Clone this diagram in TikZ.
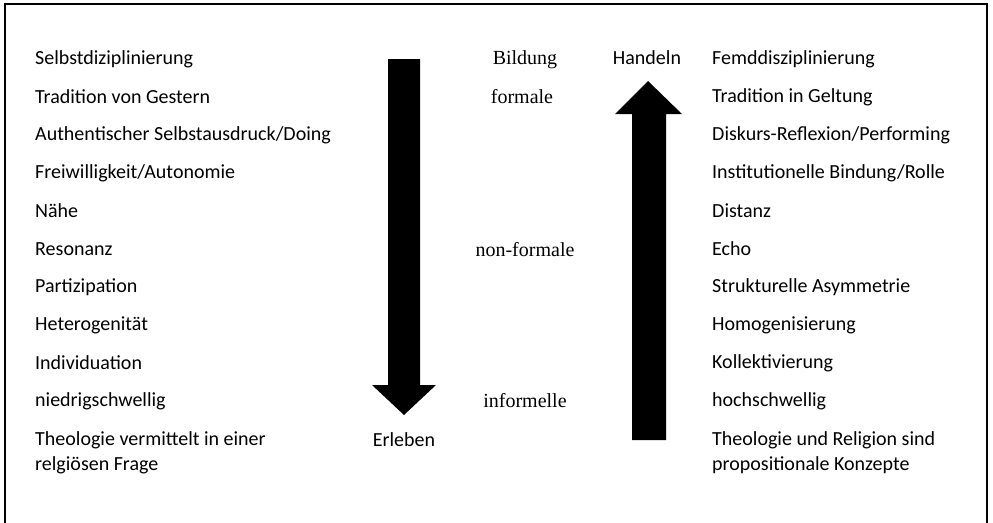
\documentclass[tikz,border=0pt]{standalone}
\usepackage{fontspec}
\setmainfont{Carlito}
\newfontfamily\serifx{Liberation Serif}
\begin{document}
\begin{tikzpicture}[x=1pt,y=-1pt,
  lbl/.style={anchor=west,inner sep=0pt,font=\fontsize{20}{25}\selectfont,align=left},
  mid/.style={inner sep=0pt,font=\fontsize{20}{25}\selectfont},
  ser/.style={inner sep=0pt,font=\serifx\fontsize{20}{25}\selectfont},
  frame/.style={line width=2pt,black},
  bigarrow/.style={fill=black,draw=none}]
\useasboundingbox (0,0) rectangle (993,522);
\draw[frame] (5,530) -- (5,4) -- (987,4) -- (987,530);
% left column
\node[lbl] (l0) at (35,59) {Selbstdiziplinierung};
\node[lbl] (l1) at (35,97) {Tradition von Gestern};
\node[lbl] (l2) at (35,135) {Authentischer Selbstausdruck/Doing};
\node[lbl] (l3) at (35,173) {Freiwilligkeit/Autonomie};
\node[lbl] (l4) at (35,211) {Nähe};
\node[lbl] (l5) at (35,249) {Resonanz};
\node[lbl] (l6) at (35,287) {Partizipation};
\node[lbl] (l7) at (35,325) {Heterogenität};
\node[lbl] (l8) at (35,363) {Individuation};
\node[lbl] (l9) at (35,401) {niedrigschwellig};
\node[lbl] (l10) at (35,452.5) {Theologie vermittelt in einer\\relgiösen Frage};
% right column
\node[lbl] (r0) at (712,59) {Femddisziplinierung};
\node[lbl] (r1) at (712,97) {Tradition in Geltung};
\node[lbl] (r2) at (712,135) {Diskurs-Reflexion/Performing};
\node[lbl] (r3) at (712,173) {Institutionelle Bindung/Rolle};
\node[lbl] (r4) at (712,211) {Distanz};
\node[lbl] (r5) at (712,249) {Echo};
\node[lbl] (r6) at (712,287) {Strukturelle Asymmetrie};
\node[lbl] (r7) at (712,325) {Homogenisierung};
\node[lbl] (r8) at (712,363) {Kollektivierung};
\node[lbl] (r9) at (712,401) {hochschwellig};
\node[lbl] (r10) at (712,452.5) {Theologie und Religion sind\\propositionale Konzepte};
% middle labels
\node[ser] (bildung) at (525,60) {Bildung};
\node[ser] (formale) at (522,97) {formale};
\node[ser] (nonformale) at (525,250) {non-formale};
\node[ser] (informelle) at (525,401) {informelle};
\node[mid] (handeln) at (647,58) {Handeln};
\node[mid] (erleben) at (404,440) {Erleben};
% down arrow
\fill[bigarrow] (388,59) -- (420,59) -- (420,385) -- (436,385) -- (404,415) -- (372,385) -- (388,385) -- cycle;
% up arrow
\fill[bigarrow] (632,440) -- (666,440) -- (666,114) -- (682,114) -- (648,81) -- (615,114) -- (632,114) -- cycle;
\end{tikzpicture}
\end{document}
